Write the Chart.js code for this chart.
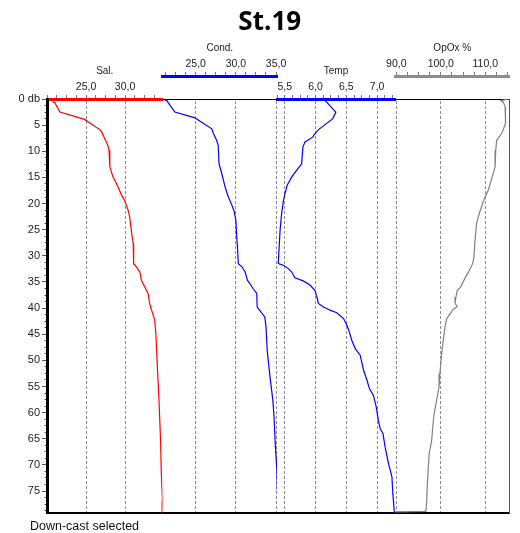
<!DOCTYPE html>
<html>
<head>
<meta charset="utf-8">
<title>St.19</title>
<script src="https://cdn.jsdelivr.net/npm/chart.js@4.4.1/dist/chart.umd.min.js"></script>
<style>
  html, body { margin: 0; padding: 0; background: #fff; }
  canvas { display: block; }
</style>
</head>
<body>
<canvas id="profile" width="520" height="533"></canvas>
<script>
// CTD down-cast, station 19: each parameter against pressure (db)
const salDepth = [0, 0, 0.6, 0.7, 2.5, 3.9, 5.9, 6.3, 7.9, 8.9, 9.8, 13.0, 14.9, 16.8, 18.4, 19.4, 21.3, 22.6, 25.1, 27.7, 31.5, 32.1, 33.1, 34.7, 36.0, 37.2, 39.1, 40.4, 42.3, 44.8, 50.0, 57.6, 65.3, 71.6, 76.8, 79.2];
const salinity = [20.0, 20.8, 20.8, 21.0, 21.65, 24.8, 26.8, 27.0, 27.5, 27.8, 27.95, 28.05, 28.45, 29.1, 29.55, 29.95, 30.4, 30.6, 30.8, 31.05, 31.1, 31.45, 31.9, 32.1, 32.55, 32.95, 33.15, 33.4, 33.8, 33.95, 34.1, 34.35, 34.55, 34.65, 34.8, 34.75];

const condDepth = [0, 0.3, 0.8, 2.5, 3.6, 4.0, 5.7, 6.6, 7.9, 8.9, 12.4, 14.3, 16.8, 18.7, 20.3, 21.6, 23.2, 26.4, 28.3, 31.5, 32.1, 33.1, 34.7, 35.3, 36.3, 37.2, 39.8, 41.7, 43.6, 48.1, 53.2, 57.6, 60.8, 65.9, 71.0, 76.8, 79.2];
const conductivity = [20.85, 21.4, 21.6, 22.4, 24.9, 25.3, 27.0, 27.2, 27.6, 27.8, 27.9, 28.25, 28.65, 29.05, 29.5, 29.8, 30.0, 30.1, 30.2, 30.3, 30.75, 31.15, 31.45, 31.75, 32.15, 32.6, 32.65, 33.6, 33.75, 33.9, 34.25, 34.6, 34.75, 34.9, 35.1, 35.2, 35.25];

const tempDepth = [0, 0.2, 2.5, 3.75, 5.85, 6.6, 7.3, 8.2, 9.2, 12.4, 13.6, 14.9, 16.5, 18.1, 19.4, 21.9, 25.1, 28.3, 31.5, 31.8, 32.45, 33.1, 34.2, 34.8, 35.6, 36.6, 38.2, 39.1, 39.8, 40.4, 40.9, 42.0, 43.3, 44.6, 46.2, 47.75, 49.0, 51.9, 53.8, 55.4, 56.7, 58.9, 61.5, 63.1, 64.0, 66.6, 69.75, 72.3, 75.5, 79.2];
const temperature = [6.6, 6.15, 6.33, 6.28, 6.05, 5.99, 5.955, 5.83, 5.795, 5.775, 5.695, 5.615, 5.54, 5.505, 5.48, 5.45, 5.425, 5.41, 5.395, 5.48, 5.56, 5.615, 5.665, 5.8, 5.91, 5.99, 6.03, 6.045, 6.13, 6.235, 6.345, 6.455, 6.51, 6.55, 6.59, 6.645, 6.725, 6.78, 6.835, 6.875, 6.94, 6.985, 7.02, 7.05, 7.095, 7.13, 7.185, 7.24, 7.255, 7.28];

const oxDepth = [0, 0.3, 0.6, 1.5, 3.1, 4.7, 6.6, 7.9, 9.8, 13.0, 15.2, 17.5, 18.75, 20.0, 21.9, 23.8, 27.0, 30.2, 31.5, 32.8, 33.7, 34.7, 36.0, 36.6, 37.9, 39.1, 39.7, 40.2, 42.0, 43.6, 46.2, 48.7, 52.5, 55.1, 57.0, 60.5, 62.75, 65.3, 67.8, 70.4, 74.2, 76.8, 78.9, 79.0];
const oxygen = [115.2, 113.5, 114.05, 114.45, 114.65, 114.45, 113.7, 112.55, 112.35, 112.2, 111.45, 110.65, 109.95, 109.4, 108.65, 108.05, 107.7, 107.45, 107.15, 106.4, 105.8, 105.2, 104.45, 103.7, 103.4, 103.2, 103.7, 102.8, 101.35, 100.95, 100.55, 100.2, 99.8, 99.6, 99.2, 98.45, 98.2, 97.95, 97.4, 97.2, 96.95, 96.85, 96.65, 89.85];

// labelled tick values
const depthTicks = [0, 5, 10, 15, 20, 25, 30, 35, 40, 45, 50, 55, 60, 65, 70, 75];
const salTicks = [25, 30];
const condTicks = [25, 30, 35];
const tempTicks = [5.5, 6.0, 6.5, 7.0];
const oxTicks = [90, 100, 110];

Chart.defaults.font.family = "'Liberation Sans', Arial, sans-serif";

// Pressure axis whose tick labels may reach into the page margin left of its box
class PressureScale extends Chart.LinearScale {
  _computeLabelArea() { return undefined; }
}
PressureScale.id = 'pressure';
PressureScale.defaults = Chart.LinearScale.defaults;
Chart.register(PressureScale);

const ROW_H = 23;
const fmt = v => v.toFixed(1).replace('.', ',');
const isLabelled = (list, v) => list.some(t => Math.abs(t - v) < 1e-6);

function stepTicks(min, max, step) {
  const out = [];
  for (let k = Math.ceil(min / step - 1e-9); k * step <= max + 1e-9; k++) {
    out.push({ value: +(k * step).toFixed(6) });
  }
  return out;
}

function fixBox(h, w) {
  return s => {
    if (h !== null) s.height = h;
    if (w !== null) s.width = w;
    s.paddingLeft = s.paddingRight = s.paddingTop = s.paddingBottom = 0;
  };
}

// one parameter axis occupying its own slice of the top band
function paramAxis(o) {
  return {
    type: 'linear', position: 'top', stack: o.row, stackWeight: o.span, weight: o.order,
    min: o.min, max: o.max, bounds: 'data',
    afterBuildTicks: s => { s.ticks = stepTicks(o.min, o.max, o.step); },
    afterFit: fixBox(ROW_H, null),
    ticks: {
      autoSkip: false, maxRotation: 0, minRotation: 0, padding: 2,
      color: '#222', font: { size: 10.5 },
      callback: v => isLabelled(o.labels, v) ? fmt(v) : ''
    },
    grid: {
      color: c => (c.tick && isLabelled(o.labels, c.tick.value)) ? '#8c8c8c' : 'rgba(0,0,0,0)',
      tickColor: '#777', tickLength: 4, lineWidth: 1
    },
    border: { color: o.color, width: 3, dash: [3, 2] },
    title: { display: true, text: o.title, color: '#222', font: { size: 10 }, padding: { top: -10.5, bottom: 0 } }
  };
}

// empty slice of a band; optionally shows the frame line
function gapAxis(row, span, order, showLine) {
  return {
    type: 'linear', position: 'top', stack: row, stackWeight: span, weight: order,
    min: 0, max: 1, display: showLine,
    afterFit: fixBox(ROW_H, null),
    ticks: { display: false }, grid: { display: false },
    border: { color: '#000', width: 1 },
    title: { display: false }
  };
}

function series(label, depth, values, axisId, color) {
  return {
    label, xAxisID: axisId, yAxisID: 'y',
    data: depth.map((d, i) => ({ x: values[i], y: d })),
    borderColor: color, backgroundColor: color, borderWidth: 1.2,
    pointRadius: 0, showLine: true, fill: false, tension: 0
  };
}

const DEPTH_MAX = 79.2;

new Chart(document.getElementById('profile'), {
  type: 'scatter',
  data: {
    datasets: [
      series('Sal.', salDepth, salinity, 'xSal', '#ff0000'),
      series('Cond.', condDepth, conductivity, 'xCond', '#0000ff'),
      series('Temp', tempDepth, temperature, 'xTemp', '#0000ff'),
      series('OpOx %', oxDepth, oxygen, 'xOx', '#808080')
    ]
  },
  options: {
    responsive: false,
    animation: false,
    events: [],
    layout: { padding: { left: 30, right: 10.5, top: 0, bottom: 0 } },
    plugins: {
      legend: { display: false },
      tooltip: { enabled: false },
      title: {
        display: true, text: 'St.19', color: '#000',
        font: { family: "'Open Sans', sans-serif", size: 26, weight: 'bold' },
        padding: { top: 7, bottom: 14.8 }
      },
      subtitle: {
        display: true, position: 'bottom', align: 'start', text: 'Down-cast selected',
        color: '#111', font: { size: 12.5, weight: 'normal' },
        padding: { top: 6, bottom: -1 }
      }
    },
    scales: {
      // upper band: conductivity and oxygen
      gapB1: gapAxis('upper', 115.5, 20, false),
      xCond: paramAxis({ row: 'upper', span: 114.5, order: 19, min: 20.86, max: 35.12, step: 1.25, labels: condTicks, color: '#0000ff', title: 'Cond.' }),
      gapB2: gapAxis('upper', 118, 18, false),
      xOx: paramAxis({ row: 'upper', span: 114.5, order: 17, min: 89.71, max: 115.44, step: 2.5, labels: oxTicks, color: '#8c8c8c', title: 'OpOx %' }),
      // lower band: salinity and temperature
      xSal: paramAxis({ row: 'lower', span: 115.5, order: 10, min: 20, max: 34.8, step: 1.25, labels: salTicks, color: '#ff0000', title: 'Sal.' }),
      gapA1: gapAxis('lower', 114.5, 9, true),
      xTemp: paramAxis({ row: 'lower', span: 118, order: 8, min: 5.375, max: 7.29, step: 0.125, labels: tempTicks, color: '#0000ff', title: 'Temp' }),
      gapA2: gapAxis('lower', 114.5, 7, true),
      // pressure axis with labels and major ticks
      y: {
        type: 'pressure', position: 'left', reverse: true, weight: 2,
        min: 0, max: DEPTH_MAX, bounds: 'data',
        afterBuildTicks: s => { s.ticks = depthTicks.map(v => ({ value: v })); },
        afterFit: fixBox(null, 17),
        ticks: {
          autoSkip: false, padding: 2, color: '#222', font: { size: 11 },
          callback: v => v === 0 ? '0 db' : String(v)
        },
        grid: { drawOnChartArea: false, tickLength: 5, tickColor: '#555' },
        border: { color: '#000', width: 3 }
      },
      // minor pressure ticks
      yMinor: {
        type: 'linear', position: 'left', reverse: true, weight: 1,
        min: 0, max: DEPTH_MAX, bounds: 'data',
        afterBuildTicks: s => { s.ticks = stepTicks(0, DEPTH_MAX, 1.25); },
        afterFit: fixBox(null, 0),
        ticks: { display: false, autoSkip: false },
        grid: { drawOnChartArea: false, tickLength: 2.5, tickColor: '#555' },
        border: { display: false }
      },
      // frame of the plot area
      frameBottom: {
        type: 'linear', position: 'bottom', min: 0, max: 1,
        afterFit: fixBox(0, null),
        ticks: { display: false }, grid: { display: false },
        border: { color: '#000', width: 2 }
      },
      frameRight: {
        type: 'linear', position: 'right', min: 0, max: 1,
        afterFit: fixBox(null, 0),
        ticks: { display: false }, grid: { display: false },
        border: { color: '#555', width: 1 }
      }
    }
  }
});
</script>
</body>
</html>
